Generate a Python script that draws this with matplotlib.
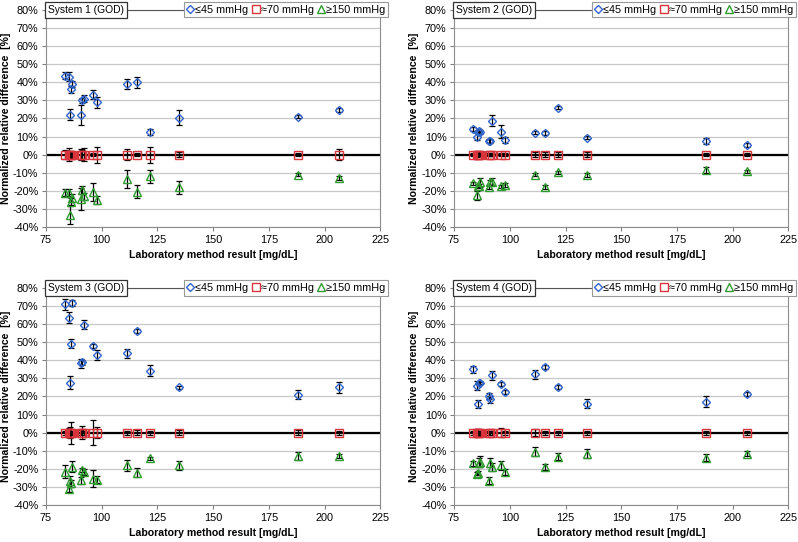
import matplotlib
matplotlib.use("Agg")
import matplotlib.pyplot as plt
from matplotlib.lines import Line2D

plt.rcParams['font.family'] = ['Liberation Sans', 'DejaVu Sans']

# laboratory method results (shared samples)
lab_x = [83.5, 85.5, 85.8, 86.2, 86.8, 90.5, 91.0, 92.1, 96.0, 97.7, 111.2, 116.0, 121.5, 134.5, 188.2, 206.5]

systems = ["System 1 (GOD)", "System 2 (GOD)", "System 3 (GOD)", "System 4 (GOD)"]
labels = ["\u226445 mmHg", "\u224870 mmHg", "\u2265150 mmHg"]

# normalized relative difference [%] per system, for <=45, ~70, >=150 mmHg
low_vals = [
    [43.5, 43, 22, 36, 39, 22, 30, 31, 33, 29, 39, 40, 12.5, 20.5, 21, 24.5],
    [14.2, 10, 12.7, 13, 12.4, 7.7, 7.7, 18.8, 12.7, 8.1, 12.2, 11.8, 26, 9.4, 7.6, 5.4],
    [71, 63.4, 27.7, 49.2, 71.5, 38.4, 38.8, 59.7, 47.7, 42.9, 43.8, 56, 34.2, 25, 20.9, 25.1],
    [35.1, 25.9, 15.9, 27.2, 27.7, 20.3, 18.5, 31.8, 26.8, 22.4, 32.3, 36.4, 25.1, 16.1, 17.2, 21.3],
]
low_err = [
    [2, 2.5, 3, 2, 1.5, 5.5, 1.5, 2, 2.5, 3, 2.5, 3, 1.5, 4, 1, 1],
    [1, 2, 1, 1, 1, 1, 1, 3, 3.5, 1.5, 1, 1, 1, 1, 1.5, 1],
    [3, 3, 3.5, 2.5, 1.5, 2.5, 1.5, 2.5, 1, 3, 2.5, 1, 3, 1, 2.5, 3],
    [2, 2.5, 2, 1, 1, 1.5, 2, 2.5, 1, 1, 2.5, 1, 1, 2.5, 3, 1],
]
mid_vals = [
    [0] * 16,
    [0] * 16,
    [0] * 16,
    [0] * 16,
]
mid_err = [
    [2.5, 3.5, 2, 1.5, 1.5, 3, 2.5, 3.5, 1, 4.5, 3, 1, 4.5, 1.5, 1, 3],
    [1, 1.5, 1, 1, 1, 1, 1, 1, 1, 1, 1.5, 1.5, 1.5, 1.5, 1, 1],
    [1, 2.5, 3, 6, 1, 1.5, 3.5, 1, 7, 3, 1, 1.5, 1, 1.5, 1.5, 1],
    [1, 2, 2, 1, 1, 1, 1, 1, 2.5, 1, 2, 1, 1, 1, 1, 1],
]
high_vals = [
    [-21, -21, -33.5, -26, -24, -24.5, -19.5, -23, -20.5, -25, -13.5, -20.5, -12, -18, -11, -13],
    [-15.9, -22.3, -17.1, -17.3, -15.3, -18, -15.3, -14.9, -17.5, -16.8, -11, -18, -9.8, -11.2, -8.5, -9.2],
    [-21.6, -30.9, -26.8, -28, -18.9, -26.2, -20.7, -21.6, -25.3, -25.9, -17.9, -22, -14.2, -17.9, -12.9, -12.9],
    [-17, -22.6, -22.2, -16.6, -16, -26.6, -16.6, -18.9, -17.9, -21.6, -10.5, -18.9, -13.3, -11.5, -13.7, -11.5],
]
high_err = [
    [2, 2, 5, 2, 2, 6, 2, 2, 5, 2, 5, 3.5, 3.5, 3.5, 1, 1],
    [1, 2.5, 1, 1, 2.5, 1, 1.5, 2, 1, 1, 1, 1, 1, 1, 1.5, 1],
    [3.5, 2, 3, 2, 3, 2, 1, 1.5, 4.5, 2, 3, 2.5, 1, 2.5, 2, 1],
    [1.5, 1, 1, 2.5, 3, 2, 2.5, 2, 2.5, 1.5, 2.5, 1.5, 2, 2.5, 2, 1.5],
]

colors = ['#3366cc', '#d8343c', '#2f9a2f']
markers = ['D', 's', '^']
msizes = [4.2, 5.5, 5.5]

fig = plt.figure(figsize=(7.98, 5.42), dpi=100)
positions = [
    [0.0576, 0.581, 0.419, 0.401],
    [0.569, 0.581, 0.419, 0.401],
    [0.0576, 0.068, 0.419, 0.401],
    [0.569, 0.068, 0.419, 0.401],
]

for i in range(4):
    ax = fig.add_axes(positions[i])
    series = [(low_vals[i], low_err[i]), (mid_vals[i], mid_err[i]), (high_vals[i], high_err[i])]
    for j, (vals, errs) in enumerate(series):
        ax.errorbar(lab_x, vals, yerr=errs, fmt='none', ecolor='black',
                    elinewidth=0.9, capsize=2.5, capthick=0.9, zorder=3)
        ax.plot(lab_x, vals, linestyle='none', marker=markers[j], markersize=msizes[j],
                markerfacecolor='none', markeredgecolor=colors[j], markeredgewidth=1.0, zorder=4)
    ax.axhline(0, color='black', linewidth=1.6, zorder=2)
    ax.set_xlim(75, 225)
    ax.set_ylim(-40, 80)
    ax.set_xticks(range(75, 226, 25))
    ax.set_yticks(range(-40, 81, 10))
    ax.set_yticklabels(['%d%%' % v for v in range(-40, 81, 10)])
    ax.grid(axis='y', color='#c8c8c8', linewidth=0.9)
    ax.set_axisbelow(True)
    ax.tick_params(labelsize=7.8, length=3, color='#808080', pad=2.5)
    for side in ['left', 'bottom', 'right']:
        ax.spines[side].set_color('#8c8c8c')
    ax.spines['top'].set_color('#555555')
    ax.set_xlabel('Laboratory method result [mg/dL]', fontsize=7.6, fontweight='bold', labelpad=4)
    ax.set_ylabel('Normalized relative difference  [%]', fontsize=7.6, fontweight='bold', labelpad=1.5)

    ax.text(0.006, 1.0, systems[i], transform=ax.transAxes, ha='left', va='center',
            fontsize=7.4, zorder=10,
            bbox=dict(boxstyle='square,pad=0.3', facecolor='white', edgecolor='#333333', linewidth=0.9))

    handles = [Line2D([], [], linestyle='none', marker=markers[k], markersize=msizes[k],
                      markerfacecolor='none', markeredgecolor=colors[k], markeredgewidth=1.0)
               for k in range(3)]
    leg = ax.legend(handles, labels, loc='center right', bbox_to_anchor=(1.024, 1.0),
                    ncol=3, fontsize=7.8, frameon=True, fancybox=False, framealpha=1,
                    handlelength=0.6, handletextpad=0.2, columnspacing=0.35,
                    borderpad=0.25, borderaxespad=0)
    leg.get_frame().set_edgecolor('#999999')
    leg.get_frame().set_linewidth(0.8)
    leg.set_zorder(10)

fig.savefig('out.png', dpi=100)
